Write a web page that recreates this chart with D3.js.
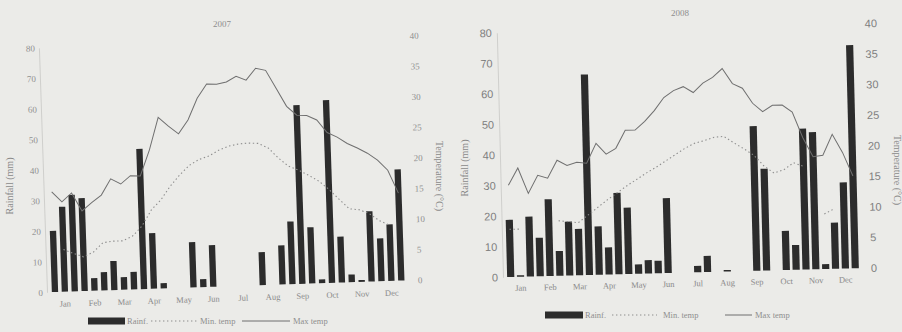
<!DOCTYPE html>
<html>
<head>
<meta charset="utf-8">
<script src="https://d3js.org/d3.v7.min.js"></script>
<style>
  html, body { margin: 0; padding: 0; background: #ebebe8; }
  svg { display: block; }
</style>
</head>
<body>
<svg id="chart" width="902" height="332"></svg>
<script>
// Three dekads per month, 36 per year
const months = ['Jan', 'Feb', 'Mar', 'Apr', 'May', 'Jun', 'Jul', 'Aug', 'Sep', 'Oct', 'Nov', 'Dec'];
const dekads = d3.range(36);
const rainTicks = [0, 10, 20, 30, 40, 50, 60, 70, 80];
const tempTicks = [0, 5, 10, 15, 20, 25, 30, 35, 40];
const legendLabels = ['Rainf.', 'Min. temp', 'Max temp'];

// 2007 (left panel)
const rain2007 = [20, 27.8, 31.6, 30.4, 4.1, 6, 9.5, 4.1, 5.7, 45.9, 18.2, 1.7,
  0, 0, 14.8, 2.6, 13.6, 0, 0, 0, 0, 10.8, 0, 12.8,
  20.5, 58.5, 18.4, 1.2, 59.8, 15, 2.5, 0.6, 23, 14, 18.5, 36.4];
const tmax2007 = [16.4, 14.7, 16.1, 13.1, 14.4, 15.6, 18.2, 17.3, 18.6, 18.5, 22.7, 28.0,
  26.5, 25.2, 27.4, 30.9, 33.2, 33.1, 33.4, 34.3, 33.6, 35.5, 35.1, 32.1,
  29.1, 27.6, 27.5, 26.7, 24.6, 23.8, 22.7, 21.9, 21.0, 19.8, 18.1, 14.3];
const tmin2007 = [null, 6.9, 6.2, 5.6, 6.3, 7.8, 8.0, 8.0, 8.7, 10.3, 12.9, 14.5,
  16.7, 18.5, 20.0, 20.9, 21.4, 22.3, 22.9, 23.2, 23.3, 23.2, 22.4, 20.7,
  19.3, 18.6, 17.7, 16.7, 15.3, 13.6, 12.0, 11.8, 11.1, 9.9, 9.1, null];

// 2008 (right panel)
const rain2008 = [18.7, 0.5, 19.6, 12.6, 25.1, 8.1, 17.6, 15.2, 65.6, 15.8, 8.9, 26.6,
  21.7, 3.1, 4.4, 4.1, 24.5, 0, 0, 2.1, 5.3, 0, 0.5, 0,
  0, 47.3, 33.3, 0, 12.8, 8.1, 46.1, 44.9, 1.6, 15.1, 28.2, 73];
const tmax2008 = [15.0, 17.8, 13.6, 16.5, 16.0, 18.9, 18.0, 18.5, 18.3, 21.5, 19.7, 20.6,
  23.5, 23.5, 24.9, 26.6, 28.7, 29.8, 30.4, 29.4, 30.9, 31.8, 33.2, 30.7,
  29.9, 27.4, 26.0, 27.0, 27.0, 25.8, 21.6, 18.4, 18.6, 22.0, 19.0, 15.1];
const tmin2008 = [7.8, 7.8, null, null, null, 9.0, 8.8, 8.6, 9.8, 11.0, 12.2, 13.3,
  14.4, 15.4, 16.4, 17.3, 18.3, 19.3, 20.3, 21.1, 21.5, 22.0, 22.1, 21.0,
  20.0, 18.9, 17.1, 15.9, 16.4, 17.5, 16.9, null, 9.0, 9.8, null, null];

const svg = d3.select('#chart');
svg.append('rect').attr('width', 902).attr('height', 332).attr('fill', '#ebebe8');

function drawPanel(p) {
  // the scan is slightly skewed, so the plot body is rotated about its origin
  const g = svg.append('g')
    .attr('transform', `rotate(${p.angle},${p.pivot[0]},${p.pivot[1]})`);

  const x = d3.scaleBand()
    .domain(dekads)
    .range(p.xRange)
    .paddingInner(p.pad)
    .paddingOuter(p.pad / 2);
  const yRain = d3.scaleLinear().domain([0, 80]).range([p.base, p.top]);
  const yTemp = d3.scaleLinear().domain([0, 40]).range([p.base, p.top]);
  const cx = i => x(i) + x.bandwidth() / 2;

  // rainfall axis
  const leftAxis = g.append('g')
    .attr('transform', `translate(${p.leftAxisX},0)`)
    .call(d3.axisLeft(yRain).tickValues(rainTicks).tickSize(0).tickPadding(p.tickPad));
  leftAxis.select('.domain').attr('stroke', '#cfcfcc').attr('stroke-width', 1);

  // temperature axis
  const rightAxis = g.append('g')
    .attr('transform', `translate(${p.rightAxisX},0)`)
    .call(d3.axisRight(yTemp).tickValues(tempTicks).tickSize(0).tickPadding(p.tickPad));
  rightAxis.select('.domain').remove();

  g.selectAll('.tick text')
    .attr('font-family', p.tickFont)
    .attr('font-size', p.tickSize)
    .attr('fill', p.tickColor);

  // bars
  g.append('g').selectAll('rect')
    .data(p.rain)
    .join('rect')
    .attr('x', (d, i) => x(i))
    .attr('width', x.bandwidth())
    .attr('y', d => yRain(d))
    .attr('height', d => p.base - yRain(d))
    .attr('fill', '#2c2c2c');

  // min temp (dotted)
  const lineMin = d3.line()
    .defined(d => d != null)
    .x((d, i) => cx(i))
    .y(d => yTemp(d));
  g.append('path')
    .datum(p.tmin)
    .attr('d', lineMin)
    .attr('fill', 'none')
    .attr('stroke', '#8d8d8d')
    .attr('stroke-width', 1.1)
    .attr('stroke-dasharray', '1.4,2.6');

  // max temp (solid)
  const lineMax = d3.line()
    .x((d, i) => cx(i))
    .y(d => yTemp(d));
  g.append('path')
    .datum(p.tmax)
    .attr('d', lineMax)
    .attr('fill', 'none')
    .attr('stroke', '#6f6f6f')
    .attr('stroke-width', 1);

  // month labels under the middle dekad
  g.append('g').selectAll('text')
    .data(months)
    .join('text')
    .attr('x', (d, i) => cx(i * 3 + 1))
    .attr('y', p.base + p.monthDy)
    .attr('text-anchor', 'middle')
    .attr('font-family', 'Liberation Serif')
    .attr('font-size', p.monthSize)
    .attr('fill', '#8a8a8a')
    .text(d => d);

  // title and axis titles
  svg.append('text')
    .attr('x', p.titleX).attr('y', p.titleY)
    .attr('text-anchor', 'middle')
    .attr('font-family', 'Liberation Serif')
    .attr('font-size', 9)
    .attr('fill', '#8e8e8e')
    .text(p.title);

  svg.append('text')
    .attr('transform', `translate(${p.rainTitle[0]},${p.rainTitle[1]}) rotate(-90)`)
    .attr('text-anchor', 'middle')
    .attr('font-family', 'Liberation Serif')
    .attr('font-size', 10)
    .attr('fill', '#8a8a8a')
    .text('Rainfall (mm)');

  svg.append('text')
    .attr('transform', `translate(${p.tempTitle[0]},${p.tempTitle[1]}) rotate(90)`)
    .attr('text-anchor', 'middle')
    .attr('font-family', 'Liberation Serif')
    .attr('font-size', 10)
    .attr('fill', '#8a8a8a')
    .text('Temperature (°C)');

  // legend
  const lg = svg.append('g').attr('transform', `translate(0,${p.legendY})`);
  const L = p.legend;
  lg.append('rect')
    .attr('x', L[0]).attr('y', -3.5)
    .attr('width', L[1] - L[0]).attr('height', 7)
    .attr('fill', '#2c2c2c');
  lg.append('line')
    .attr('x1', L[3]).attr('x2', L[4]).attr('y1', 0).attr('y2', 0)
    .attr('stroke', '#8d8d8d').attr('stroke-dasharray', '1.4,2.6');
  lg.append('line')
    .attr('x1', L[6]).attr('x2', L[7]).attr('y1', 0).attr('y2', 0)
    .attr('stroke', '#6f6f6f');
  lg.selectAll('text')
    .data(legendLabels)
    .join('text')
    .attr('x', (d, i) => L[i * 3 + 2])
    .attr('y', 3)
    .attr('font-family', 'Liberation Serif')
    .attr('font-size', 8.5)
    .attr('fill', '#8e8e8e')
    .text(d => d);
}

drawPanel({
  title: '2007', titleX: 222, titleY: 27,
  rain: rain2007, tmax: tmax2007, tmin: tmin2007,
  angle: -1.9, pivot: [55, 292],
  xRange: [50.05, 406.45], pad: 0.36,
  base: 292, top: 47.5,
  leftAxisX: 47, rightAxisX: 414, tickPad: 4,
  tickFont: 'Liberation Serif', tickSize: 9, tickColor: '#909090',
  monthDy: 15, monthSize: 8.5,
  rainTitle: [13, 186], tempTitle: [436, 176],
  legendY: 321,
  legend: [88, 125, 127, 151, 197, 200, 242, 290, 293]
});

drawPanel({
  title: '2008', titleX: 680, titleY: 16,
  rain: rain2008, tmax: tmax2008, tmin: tmin2008,
  angle: -1.45, pivot: [510.7, 277],
  xRange: [505.8, 860.3], pad: 0.27,
  base: 277, top: 32.4,
  leftAxisX: 503, rightAxisX: 866, tickPad: 5,
  tickFont: 'Liberation Sans', tickSize: 11, tickColor: '#7e7e7e',
  monthDy: 14, monthSize: 8.5,
  rainTitle: [468, 168], tempTitle: [894, 170],
  legendY: 315,
  legend: [545, 583, 585, 612, 657, 663, 725, 752, 755]
});
</script>
</body>
</html>
